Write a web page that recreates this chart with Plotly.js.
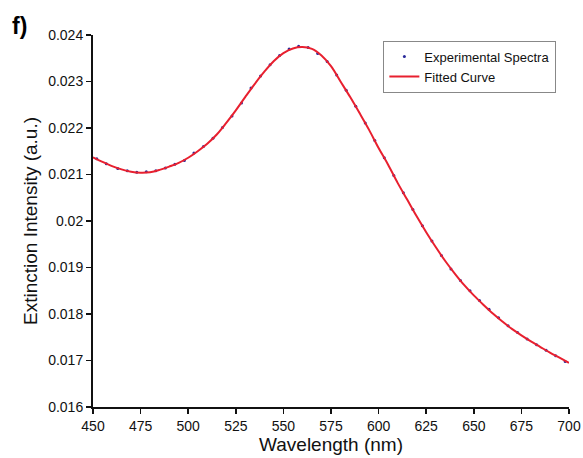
<!DOCTYPE html>
<html><head><meta charset="utf-8">
<script src="https://cdn.plot.ly/plotly-3.0.1.min.js"></script>
<style>body{margin:0;background:#fff}#c{width:583px;height:458px}</style>
</head><body><div id="c"></div>
<script>
const fitWl = [450,455,460,465,470,475,480,485,490,495,500,505,510,515,520,525,530,535,540,545,550,555,560,565,570,575,580,585,590,595,600,605,610,615,620,625,630,635,640,645,650,655,660,665,670,675,680,685,690,695,700];
const fitY = [0.02137,0.02127,0.02118,0.02111,0.02106,0.02104,0.02105,0.02110,0.02117,0.02125,0.02136,0.02150,0.02166,0.02186,0.02211,0.02238,0.02267,0.02295,0.02321,0.02344,0.02361,0.02371,0.02374,0.02370,0.02356,0.02333,0.02300,0.02267,0.02232,0.02196,0.02157,0.02121,0.02082,0.02046,0.02010,0.01976,0.01944,0.01914,0.01887,0.01862,0.01840,0.01820,0.01801,0.01784,0.01768,0.01754,0.01741,0.01729,0.01717,0.01706,0.01695];
const expWl = [452,457,463,468,473,478,483,488,493,498,503,508,513,518,523,528,533,538,543,548,553,558,563,568,573,578,583,588,593,598,603,608,613,618,623,628,633,638,643,648,653,658,663,668,673,678,683,688,693,698];
const expY = [0.02134,0.02123,0.02113,0.02108,0.02105,0.02106,0.02108,0.02114,0.02122,0.02130,0.02146,0.02160,0.02178,0.02201,0.02226,0.02254,0.02286,0.02312,0.02336,0.02356,0.02370,0.02376,0.02373,0.02360,0.02343,0.02314,0.02281,0.02247,0.02211,0.02173,0.02136,0.02098,0.02061,0.02025,0.01990,0.01957,0.01926,0.01897,0.01872,0.01850,0.01829,0.01810,0.01792,0.01775,0.01760,0.01746,0.01734,0.01722,0.01710,0.01698];
const xTicks = [450,475,500,525,550,575,600,625,650,675,700];
const yTicks = [0.016,0.017,0.018,0.019,0.02,0.021,0.022,0.023,0.024];
const yTickText = ['0.016','0.017','0.018','0.019','0.02','0.021','0.022','0.023','0.024'];

const font = 'Liberation Sans, Arial, sans-serif';
const data = [
  {x: expWl, y: expY, mode: 'markers', type: 'scatter', name: 'Experimental Spectra',
   marker: {color: '#2a2a9a', size: 3}},
  {x: fitWl, y: fitY, mode: 'lines', type: 'scatter', name: 'Fitted Curve',
   line: {color: '#e8202f', width: 2, shape: 'spline'}}
];
const layout = {
  width: 583, height: 458,
  margin: {l: 93, r: 14, t: 35, b: 51},
  paper_bgcolor: '#fff', plot_bgcolor: '#fff',
  font: {family: font, color: '#111', size: 13},
  showlegend: true,
  legend: {x: 0.61, y: 0.985, xanchor: 'left', yanchor: 'top', bgcolor: '#fff',
           bordercolor: '#888', borderwidth: 1, font: {size: 13, family: font},
           tracegroupgap: 0, itemwidth: 30},
  xaxis: {range: [450, 700], tickvals: xTicks, showline: true, linecolor: '#111', linewidth: 2,
          ticks: 'outside', ticklen: 5, tickwidth: 1.5, tickcolor: '#111', showgrid: false, zeroline: false,
          tickfont: {size: 14}, title: {text: 'Wavelength (nm)', font: {size: 19}, standoff: 2}},
  yaxis: {range: [0.016, 0.024], tickvals: yTicks, ticktext: yTickText, showline: true, linecolor: '#111', linewidth: 2,
          ticks: 'outside', ticklen: 5, tickwidth: 1.5, tickcolor: '#111', showgrid: false, zeroline: false,
          tickfont: {size: 14}, title: {text: 'Extinction Intensity (a.u.)', font: {size: 19}, standoff: 6}},
  annotations: [{text: '<b>f)</b>', xref: 'paper', yref: 'paper', x: -0.175, y: 1.065, xanchor: 'left', yanchor: 'top',
                 showarrow: false, font: {size: 23, family: font, color: '#000'}}]
};
Plotly.newPlot('c', data, layout, {staticPlot: true});
</script></body></html>
